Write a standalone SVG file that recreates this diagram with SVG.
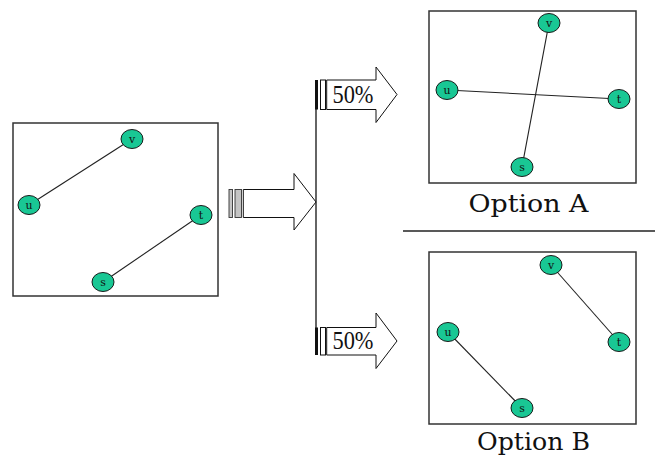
<svg xmlns="http://www.w3.org/2000/svg" width="655" height="460" viewBox="0 0 655 460">
<style>
.box{fill:#fff;stroke:#333;stroke-width:1.5}
.edge{stroke:#222;stroke-width:1.1;fill:none}
.node ellipse{fill:#19c794;stroke:#1a1a1a;stroke-width:1}
.node text{font-family:"DejaVu Serif","Liberation Serif",serif;font-size:11px;text-anchor:middle;fill:#111}
.arrow{fill:#fff;stroke:#111;stroke-width:1}
.pct{font-family:"Liberation Serif",serif;font-size:25px;fill:#111}
.cap{font-family:"DejaVu Serif",serif;font-size:25px;fill:#111;text-anchor:middle}
.gbar{fill:#c4c4c4;stroke:#333;stroke-width:0.9}
.wbar{fill:#fff;stroke:#111;stroke-width:1}
</style>
<rect width="655" height="460" fill="#fff"/>

<!-- frames -->
<rect id="frameLeft" class="box" x="13" y="123" width="205" height="173"/>
<rect id="frameA" class="box" x="429" y="11" width="207" height="172"/>
<rect id="frameB" class="box" x="429" y="252" width="207" height="172"/>

<!-- connectors -->
<g id="connectors">
  <line class="edge" x1="29" y1="205" x2="132" y2="139"/>
  <line class="edge" x1="103" y1="282" x2="201" y2="215"/>
  <line class="edge" x1="447" y1="90" x2="619" y2="99"/>
  <line class="edge" x1="549" y1="23" x2="522" y2="167"/>
  <line class="edge" x1="551" y1="265" x2="619" y2="342"/>
  <line class="edge" x1="448" y1="332" x2="522" y2="408"/>
  <line x1="316" y1="80" x2="316" y2="355" stroke="#111" stroke-width="1.3"/>
  <line x1="403" y1="231" x2="655" y2="231" stroke="#222" stroke-width="1.5"/>
</g>

<!-- left graph nodes -->
<g id="L_v" class="node"><ellipse cx="132" cy="139" rx="11" ry="9.5"/><text x="132" y="143">v</text></g>
<g id="L_u" class="node"><ellipse cx="29" cy="205" rx="11" ry="9.5"/><text x="29" y="209">u</text></g>
<g id="L_t" class="node"><ellipse cx="201" cy="215" rx="11" ry="9.5"/><text x="201" y="219">t</text></g>
<g id="L_s" class="node"><ellipse cx="103" cy="282" rx="11" ry="9.5"/><text x="103" y="286">s</text></g>

<!-- option A nodes -->
<g id="A_v" class="node"><ellipse cx="549" cy="23" rx="11" ry="9.5"/><text x="549" y="27">v</text></g>
<g id="A_u" class="node"><ellipse cx="447" cy="90" rx="11" ry="9.5"/><text x="447" y="94">u</text></g>
<g id="A_t" class="node"><ellipse cx="619" cy="99" rx="11" ry="9.5"/><text x="619" y="103">t</text></g>
<g id="A_s" class="node"><ellipse cx="522" cy="167" rx="11" ry="9.5"/><text x="522" y="171">s</text></g>

<!-- option B nodes -->
<g id="B_v" class="node"><ellipse cx="551" cy="265" rx="11" ry="9.5"/><text x="551" y="269">v</text></g>
<g id="B_u" class="node"><ellipse cx="448" cy="332" rx="11" ry="9.5"/><text x="448" y="336">u</text></g>
<g id="B_t" class="node"><ellipse cx="619" cy="342" rx="11" ry="9.5"/><text x="619" y="346">t</text></g>
<g id="B_s" class="node"><ellipse cx="522" cy="408" rx="11" ry="9.5"/><text x="522" y="412">s</text></g>

<!-- middle arrow -->
<g id="arrowMain">
  <rect class="gbar" x="229" y="189.5" width="3.5" height="28"/>
  <rect class="gbar" x="235" y="189.5" width="6.5" height="28"/>
  <path class="arrow" d="M243.3,189.5 H294 V173.5 L316,202 L294,230 V217.5 H243.3 Z"/>
</g>

<!-- top arrow -->
<g id="arrowA">
  <rect x="315" y="80" width="3" height="29.5" fill="#111"/>
  <rect class="wbar" x="320.5" y="80" width="5" height="29.5"/>
  <path class="arrow" d="M326.7,80 H376 V67 L397,94.5 L376,122.5 V109.5 H326.7 Z"/>
  <text class="pct" x="332.5" y="103" textLength="41" lengthAdjust="spacingAndGlyphs">50%</text>
</g>

<!-- bottom arrow -->
<g id="arrowB">
  <rect x="315" y="327.5" width="3" height="27.5" fill="#111"/>
  <rect class="wbar" x="320.5" y="327.5" width="5" height="27.5"/>
  <path class="arrow" d="M326.7,327.5 H376 V313 L397,341 L376,368.5 V355 H326.7 Z"/>
  <text class="pct" x="332.5" y="348.5" textLength="41" lengthAdjust="spacingAndGlyphs">50%</text>
</g>

<!-- captions -->
<g id="captionA"><text class="cap" x="528.5" y="211.5" textLength="120" lengthAdjust="spacingAndGlyphs">Option A</text></g>
<g id="captionB"><text class="cap" x="533.5" y="450" textLength="113" lengthAdjust="spacingAndGlyphs">Option B</text></g>
</svg>
